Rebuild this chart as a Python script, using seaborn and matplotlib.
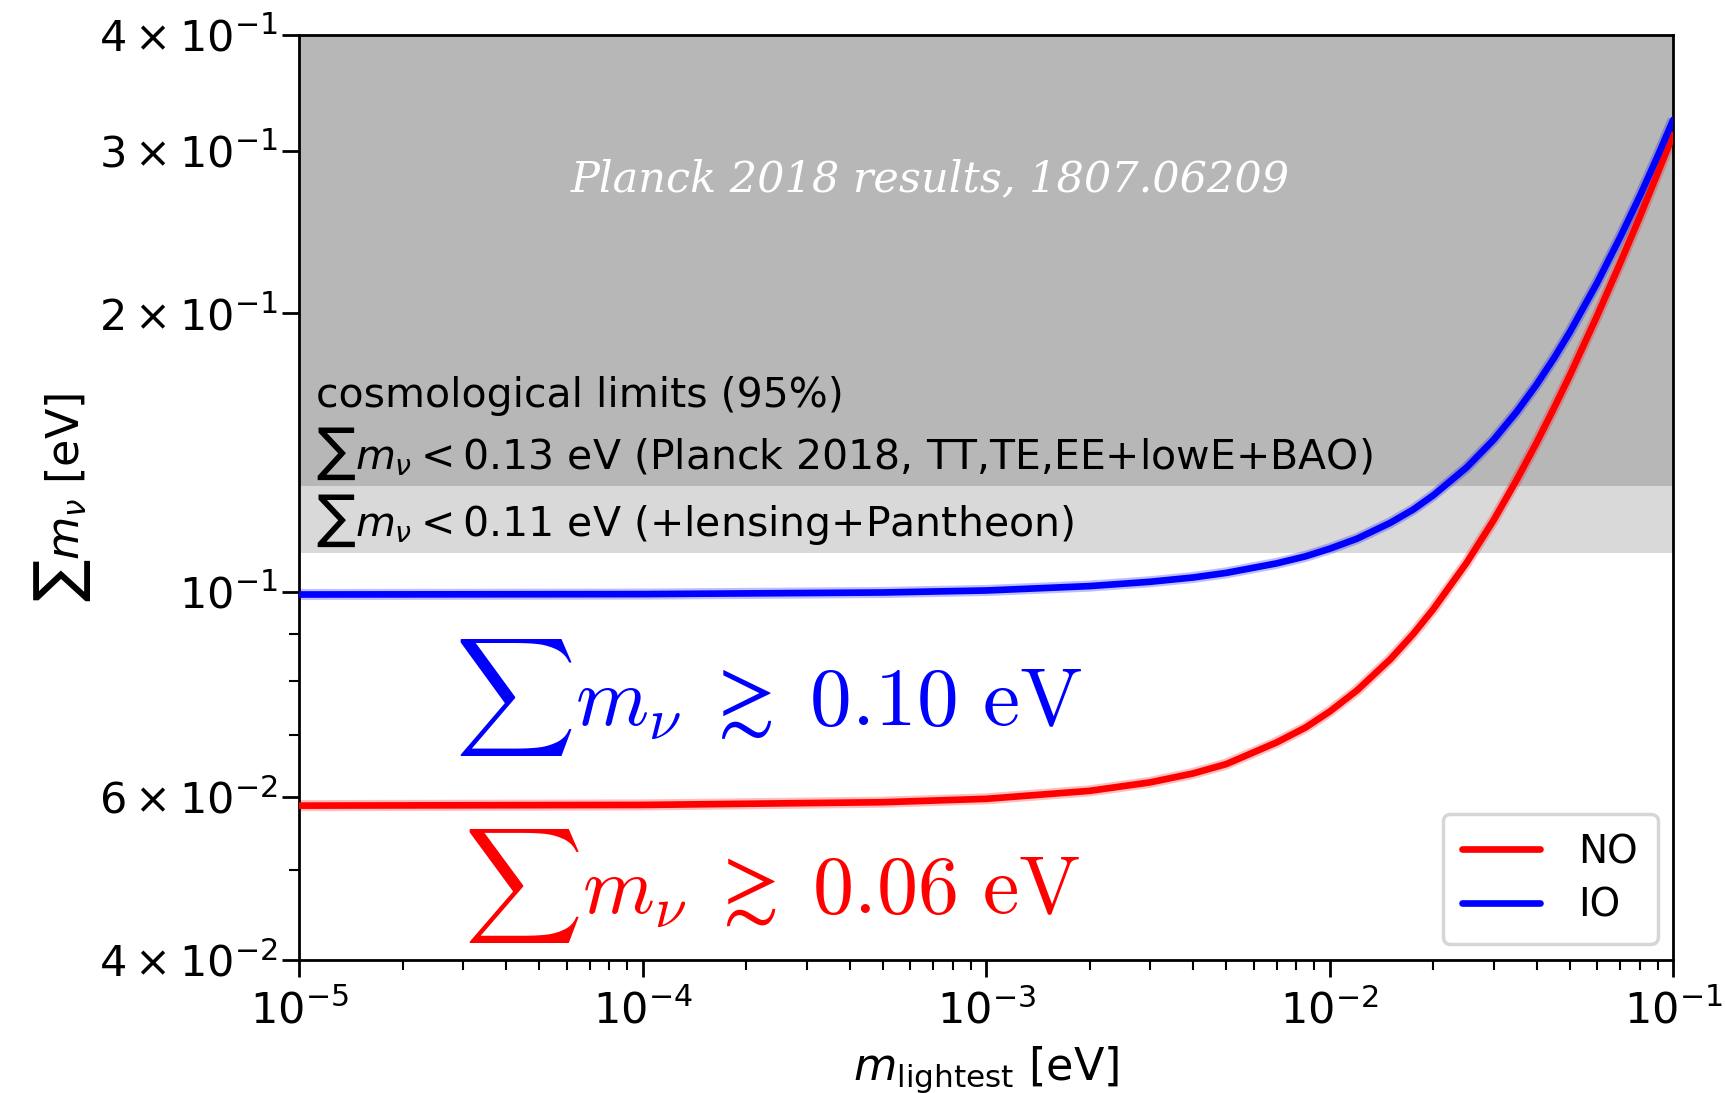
import numpy as np
import pandas as pd
import matplotlib
matplotlib.use("Agg")
import matplotlib.pyplot as plt
import seaborn as sns

# data
m_lightest = [1e-5, 1e-4, 5e-4, 1e-3, 2e-3, 3e-3, 4e-3, 5e-3, 7e-3, 8.5e-3, 1e-2, 1.2e-2,
              1.5e-2, 1.75e-2, 2e-2, 2.5e-2, 3e-2, 3.5e-2, 4e-2, 4.5e-2, 5e-2, 6e-2,
              7e-2, 8e-2, 9e-2, 1e-1]
sum_NO = [0.0587, 0.0588, 0.0592, 0.0597, 0.0609, 0.0622, 0.0636, 0.0651, 0.0687, 0.0713,
          0.0742, 0.0782, 0.0845, 0.0900, 0.0957, 0.1074, 0.1195, 0.1321, 0.1449, 0.1581,
          0.1714, 0.1987, 0.2265, 0.2546, 0.2834, 0.312]
sum_IO = [0.0993, 0.0994, 0.0998, 0.1003, 0.1014, 0.1025, 0.1036, 0.1048, 0.1073, 0.1092,
          0.1113, 0.1141, 0.1187, 0.1227, 0.1271, 0.1362, 0.146, 0.1565, 0.1675, 0.1790,
          0.1909, 0.2157, 0.2416, 0.2680, 0.2956, 0.3239]
series_names = ["NO", "IO"]
series_colors = ["#ff0000", "#0000ff"]
limit_planck = 0.13
limit_lensing = 0.11
y_ticks = [0.04, 0.06, 0.1, 0.2, 0.3, 0.4]
y_tick_labels = [r"$4\times10^{-2}$", r"$6\times10^{-2}$", r"$10^{-1}$",
                 r"$2\times10^{-1}$", r"$3\times10^{-1}$", r"$4\times10^{-1}$"]
y_minor = [0.05, 0.07, 0.08, 0.09]

df = pd.DataFrame({
    "m": m_lightest * 2,
    "s": sum_NO + sum_IO,
    "ord": ["NO"] * len(m_lightest) + ["IO"] * len(m_lightest),
})

sns.set_theme(style="ticks")
plt.rcParams["font.family"] = ["DejaVu Sans"]
plt.rcParams["mathtext.fontset"] = "dejavusans"
plt.rcParams["axes.linewidth"] = 2.0
for k in ["text.color", "axes.labelcolor", "xtick.color", "ytick.color", "axes.edgecolor"]:
    plt.rcParams[k] = "black"

fig = plt.figure(figsize=(17.25, 10.93), dpi=100)
ax = fig.add_axes([0.1735, 0.122, 0.7965, 0.846])

ax.axhspan(limit_planck, 0.4, color="#b7b7b7", lw=0, zorder=0)
ax.axhspan(limit_lensing, limit_planck, color="#d9d9d9", lw=0, zorder=0)

# faint halo under the curves
for vals, c in zip([sum_NO, sum_IO], series_colors):
    ax.plot(m_lightest, vals, color=c, alpha=0.25, lw=8, zorder=2, solid_capstyle="butt")

sns.lineplot(data=df, x="m", y="s", hue="ord", hue_order=series_names,
             palette=series_colors, linewidth=4.8, ax=ax, zorder=3)

ax.set_xscale("log")
ax.set_yscale("log")
ax.set_xlim(1e-5, 1e-1)
ax.set_ylim(0.04, 0.4)

ax.set_yticks(y_ticks)
ax.set_yticklabels(y_tick_labels)
ax.set_yticks(y_minor, minor=True)
ax.set_yticklabels([""] * len(y_minor), minor=True)
ax.tick_params(axis="both", which="major", labelsize=31, length=12, width=2, colors="black")
ax.tick_params(axis="x", which="major", pad=10)
ax.tick_params(axis="both", which="minor", length=7, width=1.5, colors="black")
for sp in ax.spines.values():
    sp.set_color("black")
    sp.set_linewidth(2)

ax.set_xlabel(r"$m_\mathrm{lightest}$ [eV]", fontsize=32, labelpad=8)
ax.set_ylabel(r"$\sum m_\nu$ [eV]", fontsize=32, labelpad=4)

ax.text(0.459, 0.844, "Planck 2018 results, 1807.06209", transform=ax.transAxes,
        ha="center", va="center", color="white", fontsize=31, fontstyle="italic",
        family="DejaVu Serif")
ax.text(0.012, 0.610, "cosmological limits (95%)", transform=ax.transAxes,
        ha="left", va="center", fontsize=29.5)
ax.text(0.012, 0.547, r"$\sum m_\nu < 0.13$ eV (Planck 2018, TT,TE,EE+lowE+BAO)",
        transform=ax.transAxes, ha="left", va="center", fontsize=29.5)
ax.text(0.012, 0.475, r"$\sum m_\nu < 0.11$ eV (+lensing+Pantheon)",
        transform=ax.transAxes, ha="left", va="center", fontsize=29.5)

ax.text(0.113, 0.283, r"$\sum m_\nu \;\gtrsim\; 0.10\ \mathrm{eV}$", transform=ax.transAxes,
        ha="left", va="center", color="#0000ff", fontsize=60, math_fontfamily="cm")
ax.text(0.12, 0.08, r"$\sum m_\nu \;\gtrsim\; 0.06\ \mathrm{eV}$", transform=ax.transAxes,
        ha="left", va="center", color="#ff0000", fontsize=59, math_fontfamily="cm")

leg = ax.legend(loc="lower right", fontsize=28, frameon=True, fancybox=True,
                handlelength=2.0, borderpad=0.5, labelspacing=0.4, handletextpad=1.0,
                borderaxespad=0.4, bbox_to_anchor=(1.0, 0.0))
leg.get_frame().set_edgecolor("#d6d6d6")
leg.get_frame().set_linewidth(2.5)
leg.get_frame().set_facecolor("white")
leg.get_frame().set_alpha(1)
for h in leg.get_lines():
    h.set_linewidth(4.8)

fig.savefig("out.png", dpi=100)
